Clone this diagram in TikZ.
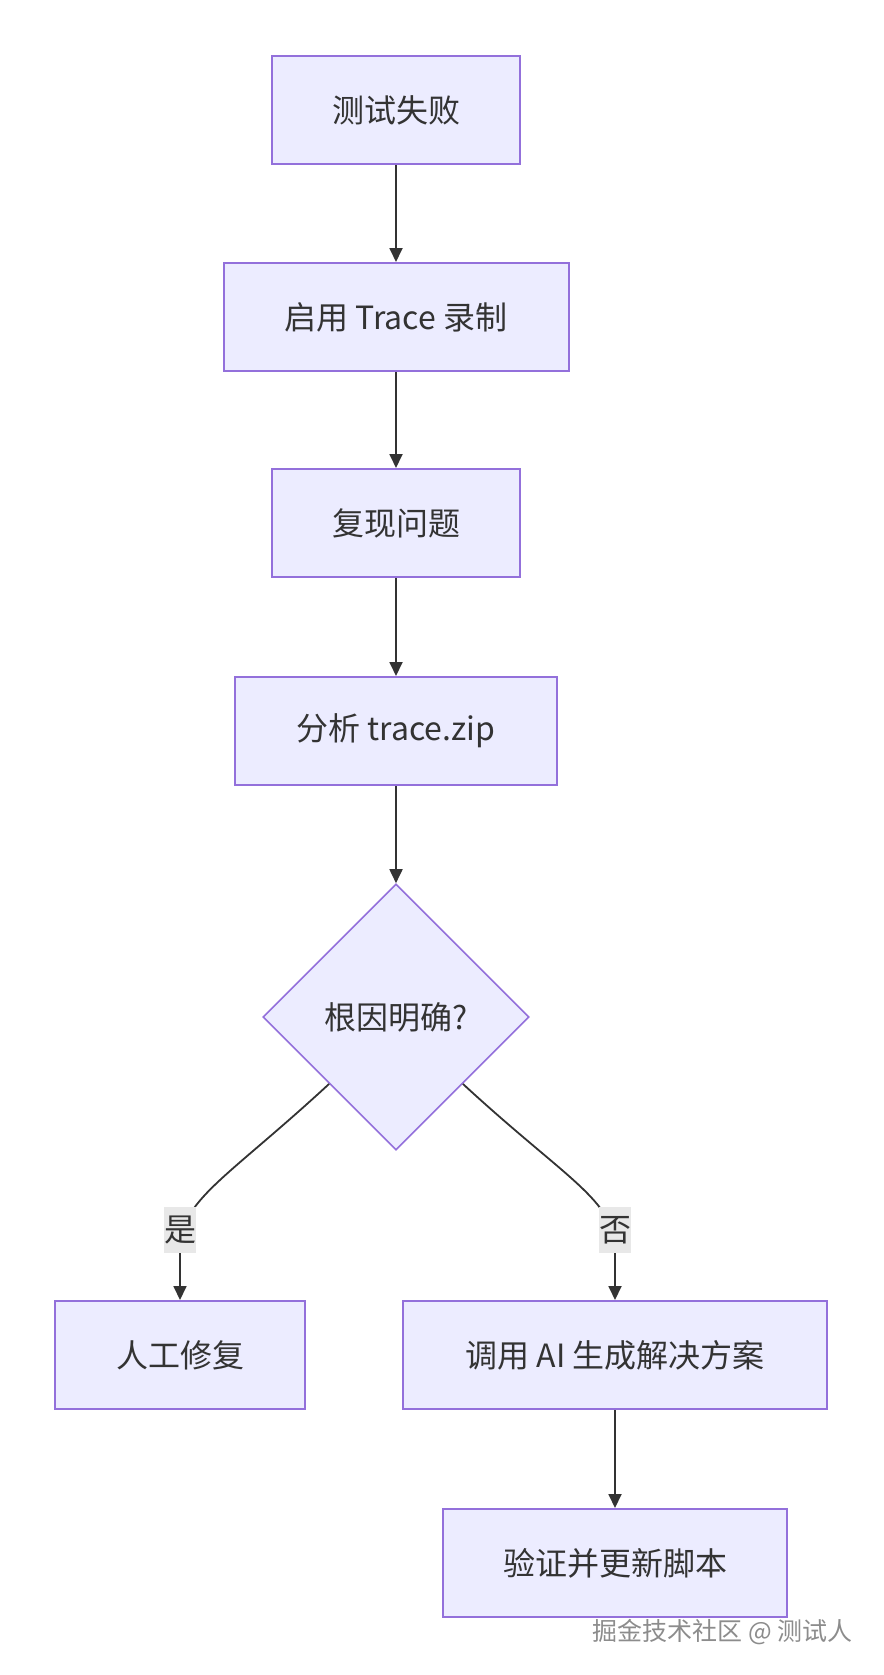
\documentclass[tikz,border=0pt]{standalone}
\usepackage{fontspec}
\setmainfont{Noto Sans CJK SC}
\usetikzlibrary{shapes.geometric,arrows.meta}

\definecolor{boxfill}{HTML}{ECECFF}
\definecolor{boxline}{HTML}{9370DB}
\definecolor{ink}{HTML}{333333}
\definecolor{lblfill}{HTML}{E8E8E8}
\definecolor{markgray}{HTML}{8C8C8C}

\begin{document}
\begin{tikzpicture}[x=1pt, y=1pt,
  box/.style={draw=boxline, fill=boxfill, line width=2pt, text=ink,
    minimum height=108, inner sep=0, font=\fontsize{32}{38}\selectfont},
  decision/.style={diamond, draw=boxline, fill=boxfill, line width=1.6pt, text=ink,
    minimum width=266, minimum height=266, inner sep=0, font=\fontsize{32}{38}\selectfont},
  arr/.style={draw=ink, line width=1.8pt, -{Triangle[length=14pt, width=13pt]}},
  lbl/.style={fill=lblfill, text=ink, inner sep=0, minimum width=32, minimum height=46,
    font=\fontsize{32}{38}\selectfont}]

\useasboundingbox (0,0) rectangle (883,-1675);


\node [box, minimum width=248] (fail) at (396,-110) {测试失败};
\node [box, minimum width=345] (trace) at (396,-317) {启用 Trace 录制};
\node [box, minimum width=248] (repro) at (396,-523) {复现问题};
\node [box, minimum width=322] (zip) at (396,-731) {分析 trace.zip};
\node [decision] (root) at (396,-1017) {根因明确?};
\node [box, minimum width=250] (manual) at (180,-1355) {人工修复};
\node [box, minimum width=424] (ai) at (615,-1355) {调用 AI 生成解决方案};
\node [box, minimum width=344] (verify) at (615,-1563) {验证并更新脚本};


\draw [arr] (fail) -- (trace);
\draw [arr] (trace) -- (repro);
\draw [arr] (repro) -- (zip);
\draw [arr] (zip) -- (root);
\draw [arr] (ai) -- (verify);


\draw [arr] (root.south west) .. controls (225,-1180) and (180,-1200) .. (180,-1250) -- (manual.north);
\draw [arr] (root.south east) .. controls (567,-1180) and (615,-1200) .. (615,-1250) -- (ai.north);
\node [lbl] (yes) at (180,-1230) {是};
\node [lbl] (no) at (615,-1230) {否};


\node [anchor=east, text=markgray, font=\fontsize{25}{30}\selectfont] (mark) at (856,-1632) {掘金技术社区 @ 测试人};

\end{tikzpicture}
\end{document}
